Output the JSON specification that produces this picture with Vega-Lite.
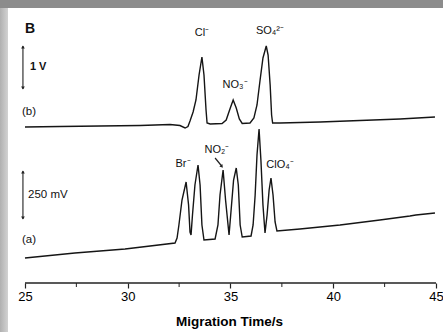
{
  "$schema": "https://vega.github.io/schema/vega-lite/v6.json",
  "width": 435,
  "height": 324,
  "autosize": {"type": "none"},
  "padding": {"left": 8, "top": 8, "right": 0, "bottom": 0},
  "background": "#8c8c8c",
  "config": {
    "view": {"fill": "white", "stroke": null},
    "font": "Liberation Sans",
    "text": {"font": "Liberation Sans", "color": "#111111"}
  },
  "datasets": {
    "traceB": [
      {"t": 25.00, "v": 205}, {"t": 26.70, "v": 205.5}, {"t": 28.65, "v": 206}, {"t": 30.60, "v": 206.5},
      {"t": 32.06, "v": 207.5}, {"t": 32.54, "v": 206.5}, {"t": 32.79, "v": 204}, {"t": 32.93, "v": 205.5},
      {"t": 33.03, "v": 211}, {"t": 33.18, "v": 220}, {"t": 33.32, "v": 232}, {"t": 33.47, "v": 257},
      {"t": 33.61, "v": 275}, {"t": 33.71, "v": 257}, {"t": 33.81, "v": 222}, {"t": 33.86, "v": 209},
      {"t": 34.01, "v": 208}, {"t": 34.59, "v": 208.5}, {"t": 34.79, "v": 212}, {"t": 34.99, "v": 224},
      {"t": 35.13, "v": 232}, {"t": 35.28, "v": 224}, {"t": 35.43, "v": 213}, {"t": 35.57, "v": 208.5},
      {"t": 35.95, "v": 209}, {"t": 36.14, "v": 214}, {"t": 36.29, "v": 227}, {"t": 36.44, "v": 252},
      {"t": 36.58, "v": 274}, {"t": 36.74, "v": 286}, {"t": 36.83, "v": 277}, {"t": 36.93, "v": 247},
      {"t": 37.00, "v": 217}, {"t": 37.05, "v": 209}, {"t": 37.41, "v": 209}, {"t": 39.36, "v": 210},
      {"t": 41.30, "v": 211.5}, {"t": 43.25, "v": 213}, {"t": 44.95, "v": 215}
    ],
    "traceA": [
      {"t": 25.00, "v": 74}, {"t": 27.43, "v": 79}, {"t": 29.87, "v": 83}, {"t": 32.30, "v": 89},
      {"t": 32.40, "v": 94}, {"t": 32.49, "v": 107}, {"t": 32.64, "v": 132}, {"t": 32.84, "v": 150},
      {"t": 32.96, "v": 127}, {"t": 33.03, "v": 100}, {"t": 33.08, "v": 97}, {"t": 33.15, "v": 117},
      {"t": 33.27, "v": 147}, {"t": 33.42, "v": 167}, {"t": 33.52, "v": 147}, {"t": 33.61, "v": 107},
      {"t": 33.71, "v": 92}, {"t": 34.25, "v": 93}, {"t": 34.39, "v": 107}, {"t": 34.49, "v": 137},
      {"t": 34.64, "v": 162}, {"t": 34.76, "v": 132}, {"t": 34.93, "v": 97}, {"t": 35.03, "v": 122},
      {"t": 35.15, "v": 152}, {"t": 35.28, "v": 164}, {"t": 35.38, "v": 147}, {"t": 35.47, "v": 107},
      {"t": 35.57, "v": 95}, {"t": 36.00, "v": 96}, {"t": 36.10, "v": 107}, {"t": 36.20, "v": 137},
      {"t": 36.29, "v": 177}, {"t": 36.39, "v": 203}, {"t": 36.48, "v": 172}, {"t": 36.58, "v": 127},
      {"t": 36.68, "v": 99}, {"t": 36.78, "v": 117}, {"t": 36.88, "v": 142}, {"t": 36.97, "v": 154},
      {"t": 37.07, "v": 137}, {"t": 37.17, "v": 110}, {"t": 37.26, "v": 101}, {"t": 38.38, "v": 103},
      {"t": 40.33, "v": 107}, {"t": 42.27, "v": 112}, {"t": 43.73, "v": 116}, {"t": 44.02, "v": 117},
      {"t": 44.95, "v": 119}
    ],
    "peakLabels": [
      {"label": "Cl⁻", "t": 33.61, "v": 299},
      {"label": "SO₄²⁻", "t": 36.92, "v": 301},
      {"label": "NO₃⁻", "t": 35.22, "v": 247},
      {"label": "Br⁻", "t": 32.69, "v": 168},
      {"label": "NO₂⁻", "t": 34.34, "v": 182},
      {"label": "ClO₄⁻", "t": 37.41, "v": 167}
    ],
    "sideLabels": [
      {"label": "(b)", "t": 24.85, "v": 220},
      {"label": "250 mV", "t": 25.15, "v": 137},
      {"label": "(a)", "t": 24.85, "v": 92}
    ],
    "boldLabels": [
      {"label": "1 V", "t": 25.24, "v": 265}
    ],
    "panelLabel": [
      {"label": "B", "t": 25.0, "v": 303}
    ],
    "scaleBars": [
      {"t": 24.90, "v": 286, "v2": 243},
      {"t": 24.90, "v": 161, "v2": 113}
    ],
    "heads": [
      {"t": 24.90, "v": 285, "dir": "up"},
      {"t": 24.90, "v": 244, "dir": "down"},
      {"t": 24.90, "v": 160, "dir": "up"},
      {"t": 24.90, "v": 114, "dir": "down"}
    ],
    "no2Arrow": [
      {"t": 34.25, "v": 174, "t2": 34.57, "v2": 166}
    ],
    "no2Head": [
      {"t": 34.58, "v": 165.5}
    ],
    "axisLine": [
      {"t": 25, "t2": 45, "v": 49}
    ],
    "minorTicks": [
      {"t": 27.5, "v": 49, "v2": 45},
      {"t": 32.5, "v": 49, "v2": 45},
      {"t": 37.5, "v": 49, "v2": 45},
      {"t": 42.5, "v": 49, "v2": 45}
    ],
    "leftBand": [
      {"t": 23.784, "t2": 24.173, "v": 0, "v2": 324}
    ]
  },
  "encoding": {
    "x": {
      "field": "t",
      "type": "quantitative",
      "scale": {"domain": [24.173, 45.341], "nice": false, "zero": false},
      "axis": {
        "values": [25, 30, 35, 40, 45],
        "format": "d",
        "offset": -49,
        "domain": false,
        "grid": false,
        "ticks": true,
        "tickSize": 5,
        "tickWidth": 1.2,
        "tickColor": "#222222",
        "labelFont": "Liberation Sans",
        "labelFontSize": 13,
        "labelColor": "#000000",
        "labelPadding": 2,
        "labelFlush": false,
        "labelOverlap": false,
        "title": "Migration Time/s",
        "titleFont": "Liberation Sans",
        "titleFontSize": 13.5,
        "titleFontWeight": "bold",
        "titleColor": "#000000",
        "titleX": 221,
        "titleY": 31,
        "titleBaseline": "top"
      }
    },
    "y": {
      "field": "v",
      "type": "quantitative",
      "scale": {"domain": [0, 324], "nice": false, "zero": false},
      "axis": null
    }
  },
  "layer": [
    {
      "data": {"name": "leftBand"},
      "mark": {
        "type": "rect",
        "color": {
          "gradient": "linear",
          "x1": 0, "y1": 0, "x2": 1, "y2": 0,
          "stops": [{"offset": 0, "color": "#b0b0b0"}, {"offset": 1, "color": "#d2d2d2"}]
        }
      },
      "encoding": {
        "x2": {"field": "t2"},
        "y2": {"field": "v2"}
      }
    },
    {
      "data": {"name": "traceB"},
      "mark": {"type": "line", "color": "#151515", "strokeWidth": 1.4},
      "encoding": {}
    },
    {
      "data": {"name": "traceA"},
      "mark": {"type": "line", "color": "#151515", "strokeWidth": 1.4},
      "encoding": {}
    },
    {
      "data": {"name": "axisLine"},
      "mark": {"type": "rule", "color": "#222222", "strokeWidth": 1.3},
      "encoding": {"x2": {"field": "t2"}}
    },
    {
      "data": {"name": "minorTicks"},
      "mark": {"type": "rule", "color": "#222222", "strokeWidth": 1},
      "encoding": {"y2": {"field": "v2"}}
    },
    {
      "data": {"name": "scaleBars"},
      "mark": {"type": "rule", "color": "#222222", "strokeWidth": 1.1},
      "encoding": {"y2": {"field": "v2"}}
    },
    {
      "data": {"name": "heads"},
      "mark": {"type": "point", "filled": true, "color": "#222222", "size": 14, "opacity": 1},
      "encoding": {
        "shape": {
          "field": "dir",
          "type": "nominal",
          "scale": {"domain": ["up", "down"], "range": ["triangle-up", "triangle-down"]},
          "legend": null
        }
      }
    },
    {
      "data": {"name": "no2Arrow"},
      "mark": {"type": "rule", "color": "#222222", "strokeWidth": 1.2},
      "encoding": {"x2": {"field": "t2"}, "y2": {"field": "v2"}}
    },
    {
      "data": {"name": "no2Head"},
      "mark": {"type": "point", "shape": "triangle-up", "angle": 142, "filled": true, "color": "#222222", "size": 14, "opacity": 1},
      "encoding": {}
    },
    {
      "data": {"name": "peakLabels"},
      "mark": {"type": "text", "fontSize": 11, "align": "center", "baseline": "middle"},
      "encoding": {"text": {"field": "label"}}
    },
    {
      "data": {"name": "sideLabels"},
      "mark": {"type": "text", "fontSize": 11.5, "align": "left", "baseline": "middle"},
      "encoding": {"text": {"field": "label"}}
    },
    {
      "data": {"name": "boldLabels"},
      "mark": {"type": "text", "fontSize": 11, "fontWeight": "bold", "align": "left", "baseline": "middle"},
      "encoding": {"text": {"field": "label"}}
    },
    {
      "data": {"name": "panelLabel"},
      "mark": {"type": "text", "fontSize": 14, "fontWeight": "bold", "align": "left", "baseline": "middle"},
      "encoding": {"text": {"field": "label"}}
    }
  ]
}
